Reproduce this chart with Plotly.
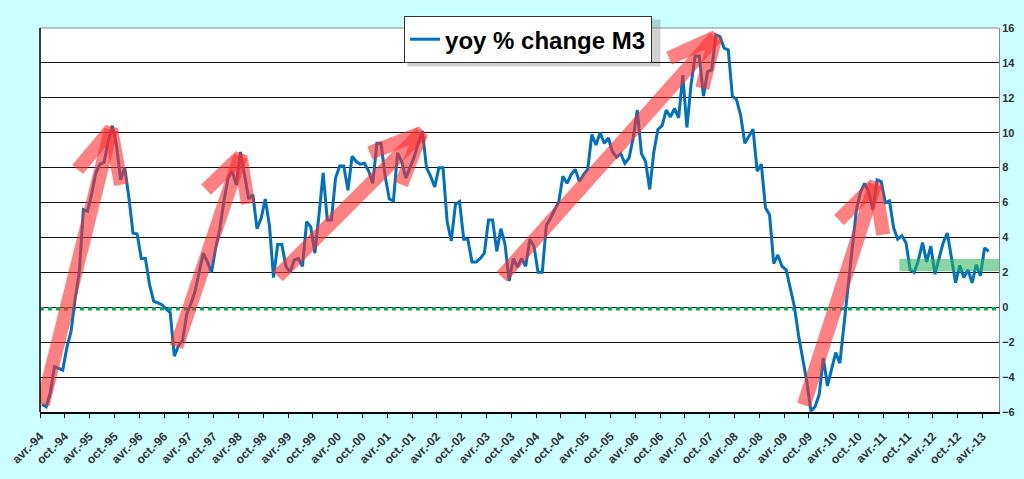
import pandas as pd
import plotly.graph_objects as go

# monthly yoy % change of M3, avr. 1994 -> mai 2013
m3_yoy = [
    -5.55, -5.7, -4.9, -3.4, -3.5, -3.6, -2.3, -1.4, 0.5, 2.0,
    5.6, 5.5, 6.5, 7.7, 8.2, 8.3, 9.5, 10.4, 9.3, 7.3,
    8.0, 6.3, 4.25, 4.2, 2.8, 2.8, 1.3, 0.35, 0.25, 0.15,
    -0.1, -0.3, -2.8, -2.2, -1.9, -0.4, 0.2, 0.9, 2.0, 3.1,
    2.6, 2.0, 3.4, 4.5, 6.1, 7.4, 7.8, 7.0, 8.9, 7.6,
    6.2, 6.45, 4.5, 5.1, 6.2, 4.7, 1.7, 3.6, 3.6, 2.35,
    2.0, 2.7, 2.8, 2.35, 4.9, 4.6, 3.1, 5.3, 7.7, 5.0,
    5.0, 7.4, 8.1, 8.1, 6.7, 8.65, 8.35, 8.2, 8.25, 7.8,
    7.1, 9.4, 9.4, 7.5, 6.2, 6.1, 8.85, 8.35, 7.4, 8.0,
    8.6, 9.4, 10.1, 8.0, 7.5, 6.9, 8.0, 8.0, 4.9, 3.8,
    5.9, 6.05, 3.9, 3.9, 2.6, 2.6, 2.8, 3.1, 5.0, 5.0,
    3.2, 4.5, 3.6, 1.5, 2.8, 2.3, 2.8, 2.35, 3.9, 3.5,
    2.0, 2.0, 4.7, 5.1, 5.6, 6.05, 7.5, 7.1, 7.6, 7.9,
    7.2, 7.6, 7.9, 9.9, 9.3, 10.0, 9.4, 9.7, 8.9, 8.6,
    8.8, 8.25, 8.55, 9.7, 11.3, 8.8, 8.35, 6.75, 8.9, 10.2,
    10.4, 11.3, 10.9, 11.4, 10.85, 13.3, 10.3, 12.75, 14.4, 14.4,
    12.1, 13.5, 13.6, 15.6, 15.5, 14.85, 14.75, 12.1, 11.9, 11.0,
    9.4, 9.8, 10.2, 7.8, 8.2, 5.7, 5.3, 2.5, 3.0, 2.35,
    2.15, 1.1, 0.05, -1.6, -2.9, -4.25, -5.95, -5.7, -5.0, -2.9,
    -4.5, -3.6, -2.6, -3.2, -0.9, 1.3, 3.6, 5.6, 6.6, 7.1,
    6.6, 5.6, 7.3, 7.2, 6.0, 6.1, 4.55, 3.9, 4.1, 3.7,
    2.15, 2.0, 2.7, 3.7, 2.6, 3.5, 1.9, 2.8, 3.7, 4.25,
    2.7, 1.4, 2.4, 1.7, 2.15, 1.4, 2.45, 1.8, 3.4, 3.2,
]

months = pd.date_range("1994-04-01", periods=len(m3_yoy), freq="MS")
mois = {4: "avr.", 10: "oct."}
n_cat = 232  # categories on the axis (avr.-94 .. juil.-13)

tick_pos = list(range(0, 229, 6))
tick_labels = [f"{mois[months[i].month]}-{months[i].strftime('%y')}" for i in tick_pos]

# hand-drawn trend arrows: shaft start, tip, left barb end, right barb end (month index, %)
arrow_start = [(0.65, -5.58), (33.0, -2.26), (57.55, 1.78), (111.7, 1.75), (184.8, -5.6)]
arrow_tip = [(17.2, 10.18), (48.5, 8.65), (92.25, 9.99), (163.4, 15.47), (202.0, 7.03)]
arrow_left = [(9.1, 7.89), (40.2, 6.74), (79.8, 8.84), (152.2, 14.27), (193.3, 5.0)]
arrow_right = [(19.6, 7.02), (50.3, 5.93), (87.4, 7.03), (160.2, 12.55), (204.0, 4.16)]

# green box on the last stretch
band_x = (207.9, 233.1)
band_y = (2.06, 2.77)

x_mid = [i + 0.5 for i in range(len(m3_yoy))]

fig = go.Figure()
fig.add_trace(go.Scatter(
    x=x_mid, y=m3_yoy, mode="lines", name="yoy % change M3",
    line=dict(color="#0070C0", width=3),
    customdata=[d.strftime("%b %Y") for d in months],
    hovertemplate="%{customdata}: %{y:.1f}%<extra></extra>",
))

for s, t, l, r in zip(arrow_start, arrow_tip, arrow_left, arrow_right):
    fig.add_trace(go.Scatter(
        x=[s[0], t[0], None, l[0], t[0], r[0]],
        y=[s[1], t[1], None, l[1], t[1], r[1]],
        mode="lines", showlegend=False, hoverinfo="skip",
        line=dict(color="rgba(255,45,45,0.6)", width=14),
    ))

fig.add_shape(type="line", xref="x", yref="y", x0=0, x1=n_cat, y0=-0.08, y1=-0.08,
              line=dict(color="#00B050", width=3.5, dash="4px,4px"), layer="between")
fig.add_shape(type="rect", xref="x", yref="y", x0=band_x[0], x1=band_x[1],
              y0=band_y[0], y1=band_y[1], line=dict(width=0),
              fillcolor="rgba(40,180,90,0.55)", layer="above")
# legend shadow
fig.add_shape(type="rect", xref="paper", yref="paper", x0=0.383, x1=0.647, y0=0.900, y1=1.022,
              line=dict(width=0), fillcolor="rgba(0,0,0,0.18)", layer="above")

fig.update_layout(
    width=1024, height=479,
    paper_bgcolor="#CCFFFF", plot_bgcolor="white",
    margin=dict(l=40, r=25, t=28, b=67, autoexpand=False),
    font=dict(family="Liberation Sans, Arial, sans-serif", color="#222"),
    showlegend=True,
    legend=dict(x=0.3796, y=1.031, xanchor="left", yanchor="top",
                bgcolor="white", bordercolor="#333", borderwidth=1,
                font=dict(size=24, color="black", weight="bold"),
                itemwidth=30),
    xaxis=dict(range=[0, n_cat], tickvals=tick_pos, ticktext=tick_labels,
               tickangle=-45, tickfont=dict(size=12, weight="bold", color="#333"),
               ticklabelstandoff=7,
               showgrid=False, zeroline=False, showline=True, linecolor="black",
               linewidth=1.5, ticks="outside", ticklen=4, tickcolor="black",
               automargin=False),
    yaxis=dict(range=[-6, 16], dtick=2, side="right",
               tickfont=dict(size=11, weight="bold", color="#333"),
               showgrid=True, gridcolor="#111", gridwidth=1, zeroline=False,
               showline=True, linecolor="#888", linewidth=1, ticks="",
               automargin=False),
)
fig.add_shape(type="line", xref="paper", yref="paper", x0=0, x1=1, y0=1, y1=1,
              line=dict(color="#888", width=1))
fig.add_shape(type="line", xref="paper", yref="paper", x0=0, x1=0, y0=0, y1=1,
              line=dict(color="black", width=1.5))

fig.write_html("out.html", config={"displayModeBar": False},
               post_script="document.body.style.margin='0';")
